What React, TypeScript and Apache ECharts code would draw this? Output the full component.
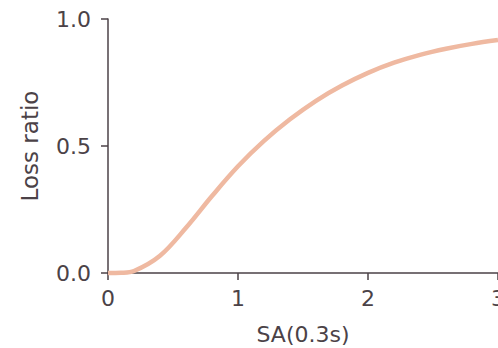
import React, { useEffect, useRef } from "react";
import * as echarts from "echarts";

const xValues = [0, 0.1, 0.2, 0.4, 0.6, 0.8, 1.0, 1.2, 1.4, 1.6, 1.8, 2.0, 2.2, 2.4, 2.6, 2.8, 3.0];
const lossRatio = [0, 0.001, 0.008, 0.068, 0.178, 0.303, 0.42, 0.52, 0.605, 0.678, 0.738, 0.788, 0.828, 0.859, 0.883, 0.902, 0.917];
const xTicks = [0, 1, 2, 3];
const yTicks = [0, 0.5, 1.0];

const textColor = "#4b4247";
const font = "DejaVu Sans";

export default function App() {
  const ref = useRef<HTMLDivElement>(null);
  useEffect(() => {
    if (!ref.current) return;
    document.body.style.margin = "0";
    document.body.style.overflow = "hidden";
    const chart = echarts.init(ref.current, null, { renderer: "svg", width: 498, height: 348 });
    chart.setOption({
      animation: false,
      backgroundColor: "#ffffff",
      grid: { left: 108, top: 19, width: 390, height: 254, containLabel: false, outerBoundsMode: "none" },
      xAxis: {
        type: "value",
        min: 0,
        max: 3,
        interval: 1,
        name: "SA(0.3s)",
        nameLocation: "middle",
        nameGap: 50,
        nameTextStyle: { color: textColor, fontFamily: font, fontSize: 22 },
        axisLine: { show: true, lineStyle: { color: textColor, width: 1.5 } },
        axisTick: { show: true, length: 7, inside: false, lineStyle: { color: textColor, width: 1.5 } },
        axisLabel: {
          color: textColor,
          fontFamily: font,
          fontSize: 22,
          margin: 14,
          formatter: (v: number) => (xTicks.includes(v) ? String(v) : ""),
        },
        splitLine: { show: false },
      },
      yAxis: {
        type: "value",
        min: 0,
        max: 1,
        interval: 0.5,
        name: "Loss ratio",
        nameLocation: "middle",
        nameGap: 67,
        nameTextStyle: { color: textColor, fontFamily: font, fontSize: 23 },
        axisLine: { show: true, lineStyle: { color: textColor, width: 1.5 } },
        axisTick: { show: true, length: 7, lineStyle: { color: textColor, width: 1.5 } },
        axisLabel: {
          color: textColor,
          fontFamily: font,
          fontSize: 22,
          margin: 17,
          formatter: (v: number) => (yTicks.some((t) => Math.abs(t - v) < 1e-9) ? v.toFixed(1) : ""),
        },
        splitLine: { show: false },
      },
      series: [
        {
          type: "line",
          data: xValues.map((x, i) => [x, lossRatio[i]]),
          smooth: 0.35,
          showSymbol: false,
          clip: false,
          lineStyle: { color: "#efb9a1", width: 4.5 },
        },
      ],
    });
    return () => chart.dispose();
  }, []);
  return <div ref={ref} style={{ width: 498, height: 348, position: "absolute", left: 0, top: 0 }} />;
}
